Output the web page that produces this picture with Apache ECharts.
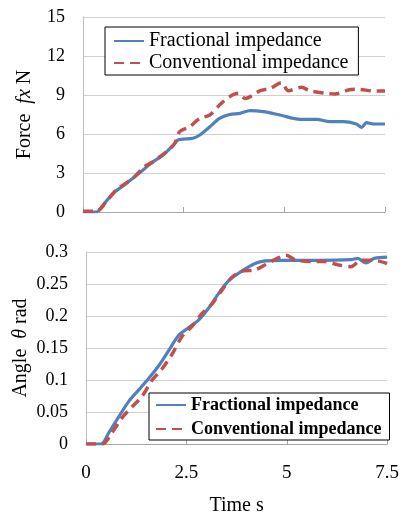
<!DOCTYPE html>
<html>
<head>
<meta charset="utf-8">
<script src="https://cdn.jsdelivr.net/npm/echarts@6/dist/echarts.min.js"></script>
<style>
html,body{margin:0;padding:0;background:#fff;}
#c{width:402px;height:517px;}
</style>
</head>
<body>
<div id="c"></div>
<script>
// ---- Data ----
const seriesNames = ['Fractional impedance', 'Conventional impedance'];

// Top chart: Force fx [N] vs time [s]
const forceFracT = [0, 0.33, 0.5, 0.75, 0.99, 1.24, 1.49, 1.74, 1.99, 2.24, 2.36, 2.48, 2.73, 2.9, 3.15, 3.39, 3.64, 3.9, 4.15, 4.48, 4.89, 5.39, 5.8, 6.13, 6.46, 6.79, 6.92, 7.04, 7.21, 7.5];
const forceFracV = [0, 0, 0.54, 1.44, 2.0, 2.6, 3.23, 3.87, 4.38, 5.15, 5.54, 5.6, 5.67, 5.92, 6.56, 7.2, 7.5, 7.59, 7.8, 7.72, 7.46, 7.13, 7.13, 6.95, 6.95, 6.77, 6.51, 6.87, 6.77, 6.77];
const forceConvT = [0, 0.33, 0.58, 0.83, 1.24, 1.53, 1.74, 2.07, 2.28, 2.4, 2.65, 2.9, 3.15, 3.39, 3.64, 3.86, 4.03, 4.4, 4.65, 4.93, 5.1, 5.43, 5.63, 6.05, 6.26, 6.59, 6.84, 7.21, 7.5];
const forceConvV = [0.05, 0.05, 0.8, 1.7, 2.6, 3.5, 3.87, 4.64, 5.28, 6.18, 6.56, 7.2, 7.46, 8.23, 8.87, 9.13, 8.74, 9.33, 9.51, 9.95, 9.33, 9.59, 9.33, 9.13, 9.08, 9.38, 9.44, 9.31, 9.31];

// Bottom chart: Angle theta [rad] vs time [s]
const angleFracT = [0, 0.37, 0.58, 0.83, 1.07, 1.32, 1.57, 1.82, 2.06, 2.31, 2.56, 2.81, 3.05, 3.3, 3.55, 3.88, 4.21, 4.46, 4.95, 5.78, 6.6, 6.77, 6.97, 7.18, 7.5];
const angleFracV = [0, 0, 0.019, 0.044, 0.067, 0.085, 0.103, 0.123, 0.146, 0.17, 0.182, 0.194, 0.212, 0.235, 0.255, 0.27, 0.282, 0.286, 0.287, 0.287, 0.288, 0.29, 0.283, 0.29, 0.292];
const angleConvT = [0, 0.41, 0.66, 0.91, 1.16, 1.4, 1.65, 1.9, 2.15, 2.39, 2.64, 2.89, 3.14, 3.38, 3.63, 3.88, 4.21, 4.46, 4.7, 4.99, 5.2, 5.61, 5.94, 6.27, 6.6, 6.85, 7.18, 7.5];
const angleConvV = [0, 0, 0.019, 0.042, 0.059, 0.075, 0.1, 0.118, 0.141, 0.168, 0.184, 0.204, 0.219, 0.24, 0.26, 0.27, 0.272, 0.28, 0.288, 0.295, 0.288, 0.285, 0.285, 0.28, 0.277, 0.287, 0.287, 0.282];

// Axis ticks
const timeTicks = {min: 0, max: 7.5, interval: 2.5};
const forceTicks = {min: 0, max: 15, interval: 3};
const angleTicks = {min: 0, max: 0.3, interval: 0.05};

const zip = (t, v) => t.map((x, i) => [x, v[i]]);

const FONT = 'Liberation Serif';
const BLUE = '#4F81BD';
const RED = '#C0504D';

const chart = echarts.init(document.getElementById('c'), null, {renderer: 'canvas'});

function xAxisCfg(grid, showLabels) {
  return {
    type: 'value', gridIndex: grid,
    min: timeTicks.min, max: timeTicks.max, interval: timeTicks.interval,
    axisLine: {show: true, lineStyle: {color: '#a6a6a6', width: 1}},
    axisTick: {show: true, inside: true, length: 5, lineStyle: {color: '#a6a6a6'}},
    splitLine: {show: false},
    axisLabel: {show: showLabels, margin: 20, color: '#000', fontFamily: FONT, fontSize: 19},
    name: showLabels ? 'Time s' : '',
    nameLocation: 'middle', nameGap: 52, nameMoveOverlap: false,
    nameTextStyle: {color: '#000', fontFamily: FONT, fontSize: 20}
  };
}

function yAxisCfg(grid, ticks, name, gap, rich) {
  return {
    type: 'value', gridIndex: grid,
    min: ticks.min, max: ticks.max, interval: ticks.interval,
    axisLine: {show: true, lineStyle: {color: '#bfbfbf', width: 1}},
    axisTick: {show: false},
    splitLine: {show: true, lineStyle: {color: '#d0d0d0', width: 1}},
    axisLabel: {margin: 18, color: '#000', fontFamily: FONT, fontSize: 18},
    name: name, nameLocation: 'middle', nameGap: gap, nameRotate: 90, nameMoveOverlap: false,
    nameTextStyle: {color: '#000', fontFamily: FONT, fontSize: 20, rich: rich}
  };
}

const richBase = {
  a: {color: '#000', fontFamily: FONT, fontSize: 20},
  i: {color: '#000', fontFamily: FONT, fontSize: 20, fontStyle: 'italic'}
};

function lineSeries(name, xi, data, color, dashed) {
  return {
    name: name, type: 'line', xAxisIndex: xi, yAxisIndex: xi,
    data: data, symbol: 'none', showSymbol: false, smooth: 0.3,
    lineStyle: {color: color, width: dashed ? 3.5 : 3.2, type: dashed ? [10, 6] : 'solid'},
    itemStyle: {color: color},
    z: dashed ? 3 : 2
  };
}

chart.setOption({
  backgroundColor: '#fff',
  animation: false,
  grid: [
    {left: 83, top: 17, width: 302, height: 195},
    {left: 86, top: 252, width: 303, height: 197}
  ],
  xAxis: [xAxisCfg(0, false), xAxisCfg(1, true)],
  yAxis: [
    yAxisCfg(0, forceTicks, '{a|Force  }{i|fx}{a| N}', 48, richBase),
    yAxisCfg(1, angleTicks, '{a|Angle  }{i|θ}{a| rad}', 55, richBase)
  ],
  legend: [
    {
      orient: 'vertical', left: 105, top: 27,
      data: seriesNames,
      itemWidth: 30, itemHeight: 12, itemGap: 2,
      padding: [4, 10, 2, 8],
      borderColor: '#000', borderWidth: 1, backgroundColor: '#fff',
      itemStyle: {opacity: 0},
      textStyle: {color: '#000', fontFamily: FONT, fontSize: 20, lineHeight: 20},
      selectedMode: false
    },
    {
      orient: 'vertical', left: 149, top: 393,
      data: seriesNames,
      itemWidth: 30, itemHeight: 12, itemGap: 4,
      padding: [2, 8, 1, 6],
      borderColor: '#000', borderWidth: 1, backgroundColor: '#fff',
      itemStyle: {opacity: 0},
      textStyle: {color: '#000', fontFamily: FONT, fontSize: 18, fontWeight: 'bold', lineHeight: 20},
      selectedMode: false
    }
  ],
  series: [
    lineSeries(seriesNames[0], 0, zip(forceFracT, forceFracV), BLUE, false),
    lineSeries(seriesNames[1], 0, zip(forceConvT, forceConvV), RED, true),
    lineSeries(seriesNames[0], 1, zip(angleFracT, angleFracV), BLUE, false),
    lineSeries(seriesNames[1], 1, zip(angleConvT, angleConvV), RED, true)
  ]
});
</script>
</body>
</html>
